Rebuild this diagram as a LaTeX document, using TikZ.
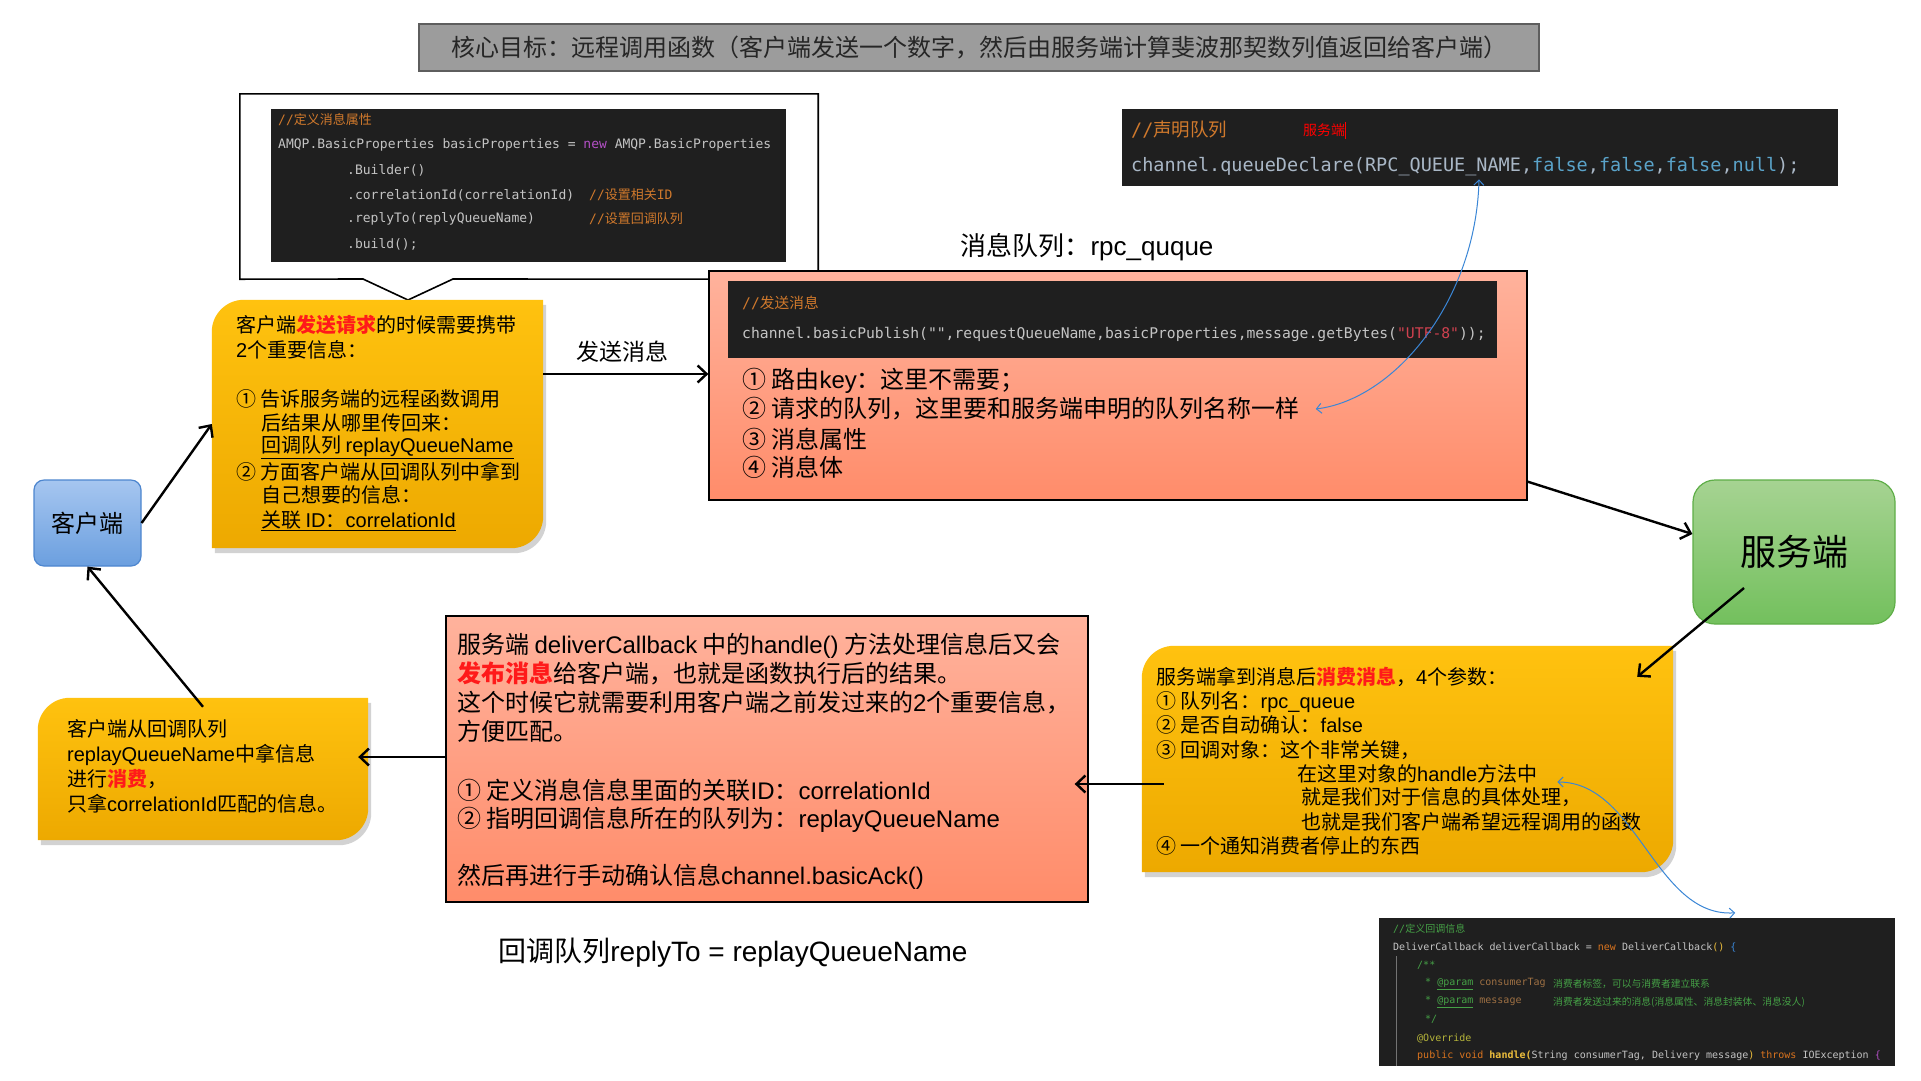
\documentclass[tikz,border=0pt]{standalone}
\usepackage{fontspec}
\setmainfont{Noto Sans CJK SC}
\newfontfamily\latinfont{Liberation Sans}
\newfontfamily\codefont{DejaVu Sans Mono}
\newfontfamily\cjk{Noto Sans CJK SC}
\usetikzlibrary{arrows.meta,fit,shadows}

\definecolor{titlefill}{HTML}{9C9C9C}
\definecolor{titleline}{HTML}{5E5E5E}
\definecolor{panel}{HTML}{1F1F1F}
\definecolor{codegray}{HTML}{C4C4C4}
\definecolor{codeblue}{HTML}{A9B7C6}
\definecolor{cmtorange}{HTML}{D0792C}
\definecolor{kwpurple}{HTML}{B24FC4}
\definecolor{kwteal}{HTML}{5AA3C9}
\definecolor{strred}{HTML}{D0414F}
\definecolor{cmtgreen}{HTML}{45A046}
\definecolor{kworange}{HTML}{D9731E}
\definecolor{fnyellow}{HTML}{EDBE3C}
\definecolor{annolive}{HTML}{B5B43A}
\definecolor{parbrown}{HTML}{9E7043}
\definecolor{hotred}{HTML}{FF1A1A}
\definecolor{yelTop}{HTML}{FFC20F}
\definecolor{yelBot}{HTML}{EDA900}
\definecolor{salTop}{HTML}{FFB29C}
\definecolor{salBot}{HTML}{FF8C6A}
\definecolor{cliTop}{HTML}{A6C6F0}
\definecolor{cliBot}{HTML}{6B9FDF}
\definecolor{cliLine}{HTML}{4D86CF}
\definecolor{srvTop}{HTML}{A6D392}
\definecolor{srvBot}{HTML}{73C05D}
\definecolor{srvLine}{HTML}{5FAE48}
\definecolor{linkblue}{HTML}{3A86D6}

\newcommand\en[1]{{\latinfont #1}}
\newcommand\hot[1]{\textcolor{hotred}{\bfseries #1}}
% yellow card: round top left and bottom right corners
\newcommand\ycard[1]{\shade[ycardfill] (#1.south west) -- ([yshift=-32pt]#1.north west)
  arc[start angle=180,end angle=90,radius=32pt] -- (#1.north east)
  -- ([yshift=32pt]#1.south east) arc[start angle=0,end angle=-90,radius=32pt] -- cycle;}

\begin{document}
\begin{tikzpicture}[x=1pt,y=-1pt,
  box/.style={inner sep=0pt},
  panelbox/.style={box,fill=panel},
  salmon/.style={box,draw=black,line width=1.3pt,top color=salTop,bottom color=salBot},
  ycardfill/.style={top color=yelTop,bottom color=yelBot,
    drop shadow={shadow xshift=3pt,shadow yshift=-5pt,opacity=.35}},
  peer/.style={rounded corners=#1,line width=1.2pt,inner sep=0pt},
  conn/.style={line width=2.4pt,-{Straight Barb[length=9pt,width=17pt]}},
  blink/.style={linkblue,line width=1pt,{Straight Barb[length=5pt,width=10pt]}-{Straight Barb[length=5pt,width=10pt]}},
  txt/.style={anchor=west,inner sep=0pt},
  t20/.style={txt,font=\fontsize{20}{24}\selectfont},
  t24/.style={txt,font=\fontsize{24}{28}\selectfont},
  codeln/.style={txt,text=codegray,font=\codefont\fontsize{#1}{#1}\selectfont},
]
\useasboundingbox[fill=white] (0,0) rectangle (1921,1080);

% title
\node[box,draw=titleline,line width=1.6pt,fill=titlefill,minimum width=1120pt,minimum height=47pt,
  font=\fontsize{24}{24}\selectfont,text=black!85] (goal) at (979,47.5)
  {核心目标：远程调用函数（客户端发送一个数字，然后由服务端计算斐波那契数列值返回给客户端）};

% callout with message properties
\node[box,fit={(240,94) (818,279)}] (props) {};
\draw[line width=1.6pt,fill=white] (props.north west) -- (props.north east) -- (props.south east)
  -- (453,279) -- (408,300) -- (363,279) -- (props.south west) -- cycle;
\node[panelbox,fit={(271,109) (786,262)}] (propcode) {};
\node[codeln=13,text=cmtorange] (pc0) at (278,120) {//{\cjk 定义消息属性}};
\node[codeln=13] (pc1) at (278,145) {AMQP.BasicProperties basicProperties = \textcolor{kwpurple}{new} AMQP.BasicProperties};
\foreach \y/\t in {170/{.Builder()},195/{.correlationId(correlationId)},219/{.replyTo(replyQueueName)},244/{.build();}}
  \node[codeln=13] at (347,\y) {\t};
\foreach \y/\t in {195/{//{\cjk 设置相关}ID},219/{//{\cjk 设置回调队列}}}
  \node[codeln=13,text=cmtorange] at (589,\y) {\t};

% queue declare code
\node[panelbox,fit={(1122,109) (1838,186)}] (declcode) {};
\node[codeln=18.5,text=cmtorange] at (1131,130) {//{\cjk 声明队列}};
\node[txt,text=red,font=\fontsize{14}{14}\selectfont] at (1303,130) {服务端\rule[-3pt]{1pt}{17pt}};
\node[codeln=18.5,text=codeblue] (decl) at (1131,167) {channel.queueDeclare(RPC\_QUEUE\_NAME,\textcolor{kwteal}{false},\textcolor{kwteal}{false},\textcolor{kwteal}{false},\textcolor{kwteal}{null});};
\node[font=\fontsize{26}{26}\selectfont,inner sep=0pt] (qlabel) at (1087,247) {消息队列：\en{rpc\_quque}};

% request box
\node[salmon,fit={(709,271) (1527,500)}] (req) {};
\node[panelbox,fit={(728,281) (1497,358)}] (pubcode) {};
\node[codeln=14.7,text=cmtorange] at (742,303) {//{\cjk 发送消息}};
\node[codeln=14.7] (pub) at (742,334) {channel.basicPublish("",requestQueueName,basicProperties,message.getBytes(\textcolor{strred}{"UTF-8"}));};
\foreach \i/\y/\t in {1/381/{① 路由\en{key}：这里不需要；},2/409/{② 请求的队列，这里要和服务端申明的队列名称一样},
  3/439/{③ 消息属性},4/467/{④ 消息体}}
  \node[t24] (item\i) at (742,\y) {\t};
\node[font=\fontsize{23}{23}\selectfont,inner sep=0pt] (sendlbl) at (622,352) {发送消息};

% client and server
\node[peer=10pt,draw=cliLine,top color=cliTop,bottom color=cliBot,minimum width=107pt,minimum height=86pt,
  font=\fontsize{24}{24}\selectfont] (cli) at (87.5,523) {客户端};
\node[peer=22pt,draw=srvLine,top color=srvTop,bottom color=srvBot,minimum width=202pt,minimum height=144pt,
  font=\fontsize{36}{36}\selectfont] (srv) at (1794,552) {服务端};

% client request card
\node[box,fit={(212,300) (543,548)}] (ycli) {};
\ycard{ycli}
\foreach \i/\x/\y/\t in {
  1/236/325/{客户端\hot{发送请求}的时候需要携带},
  2/236/350/{\en{2}个重要信息：},
  3/236/399/{① 告诉服务端的远程函数调用},
  4/261/423/{后结果从哪里传回来：},
  5/261/447/{\underline{回调队列 \en{replayQueueName}}},
  6/236/472/{② 方面客户端从回调队列中拿到},
  7/261/495/{自己想要的信息：},
  8/261/521/{\underline{关联 \en{ID}：\en{correlationId}}}}
  \node[t20] (cl\i) at (\x,\y) {\t};

% server consume card
\node[box,fit={(1142,646) (1673,872)}] (ysrv) {};
\ycard{ysrv}
\foreach \i/\x/\y/\t in {
  1/1156/677/{服务端拿到消息后\hot{消费消息}，\en{4}个参数：},
  2/1156/702/{① 队列名：\en{rpc\_queue}},
  3/1156/725/{② 是否自动确认：\en{false}},
  4/1156/750/{③ 回调对象：这个非常关键，},
  5/1297/774/{在这里对象的\en{handle}方法中},
  6/1301/797/{就是我们对于信息的具体处理，},
  7/1301/822/{也就是我们客户端希望远程调用的函数},
  8/1156/846/{④ 一个通知消费者停止的东西}}
  \node[t20] (sv\i) at (\x,\y) {\t};

% reply box
\node[salmon,fit={(446,616) (1088,902)}] (res) {};
\foreach \i/\y/\t in {
  1/646/{服务端 \en{deliverCallback} 中的\en{handle()} 方法处理信息后又会},
  2/673/{\hot{发布消息}给客户端，也就是函数执行后的结果。},
  3/703/{这个时候它就需要利用客户端之前发过来的\en{2}个重要信息，},
  4/731/{方便匹配。},
  5/790/{① 定义消息信息里面的关联\en{ID}：\en{correlationId}},
  6/820/{② 指明回调信息所在的队列为：\en{replayQueueName}},
  7/877/{然后再进行手动确认信息\en{channel.basicAck()}}}
  \node[t24] (rs\i) at (457,\y) {\t};

% client consume card
\node[box,fit={(38,698) (368,840)}] (yback) {};
\ycard{yback}
\foreach \i/\y/\t in {1/729/{客户端从回调队列},2/755/{\en{replayQueueName}中拿信息},
  3/779/{进行\hot{消费}，},4/804/{只拿\en{correlationId}匹配的信息。}}
  \node[t20] (bk\i) at (67,\y) {\t};

\node[font=\fontsize{28}{28}\selectfont,inner sep=0pt] (replylbl) at (733,953) {回调队列\en{replyTo = replayQueueName}};

% deliver callback code
\node[panelbox,fit={(1379,918) (1895,1066)}] (cbcode) {};
\draw[black!55,line width=0.6pt] (1396,956) -- (1396,1066);
\node[codeln=10,text=cmtgreen] at (1393,929) {//{\cjk 定义回调信息}};
\node[codeln=10] at (1393,947) {DeliverCallback deliverCallback = \textcolor{kworange}{new} DeliverCallback\textcolor{fnyellow}{()} \textcolor{linkblue}{\{}};
\node[codeln=10,text=cmtgreen] at (1417,965) {/**};
\node[codeln=10,text=cmtgreen] at (1425,984) {* \underline{@param} \textcolor{parbrown}{consumerTag}};
\node[codeln=10,text=cmtgreen] at (1425,1002) {* \underline{@param} \textcolor{parbrown}{message}};
\foreach \y/\t in {984/{消费者标签，可以与消费者建立联系},1002/{消费者发送过来的消息(消息属性、消息封装体、消息没人)}}
  \node[txt,text=cmtgreen,font=\fontsize{9.8}{9.8}\selectfont] at (1553,\y) {\t};
\node[codeln=10,text=cmtgreen] at (1425,1019) {*/};
\node[codeln=10,text=annolive] at (1417,1038) {@Override};
\node[codeln=10] at (1417,1056) {\textcolor{kworange}{public void} \textcolor{fnyellow}{\bfseries handle(}String consumerTag, Delivery message\textcolor{fnyellow}{)} \textcolor{kworange}{throws} IOException \textcolor{kwpurple}{\{}};

% connectors
\draw[conn] (cli.east) -- (ycli.west);
\draw[conn] ([yshift=50pt]ycli.east) -- ([yshift=50pt]ycli.east -| req.west);
\draw[conn] ([yshift=19pt]req.south east) -- ([yshift=18pt]srv.west);
\draw[conn] ([xshift=-50pt,yshift=-36pt]srv.center) -- ([xshift=-36pt,yshift=-31pt]ysrv.north east);
\draw[conn] ([xshift=22pt,yshift=-25pt]ysrv.west) -- ([xshift=-14pt,yshift=-25pt]res.east);
\draw[conn] ([yshift=2pt]res.west) -- ([xshift=-10pt,yshift=12pt]yback.east);
\draw[conn] ([yshift=-9pt]yback.north) -- (cli.south);

\coordinate (qname) at ([xshift=348pt,yshift=-3pt]decl.south west);
\draw[blink] (qname) .. controls +(-3,120) and +(80,-10) .. ([xshift=16pt]item2.east);
\draw[blink] ([xshift=20pt,yshift=-8pt]sv5.east) .. controls +(80,0) and +(-80,5) .. ([xshift=-160pt,yshift=5pt]cbcode.north east);
\end{tikzpicture}
\end{document}
